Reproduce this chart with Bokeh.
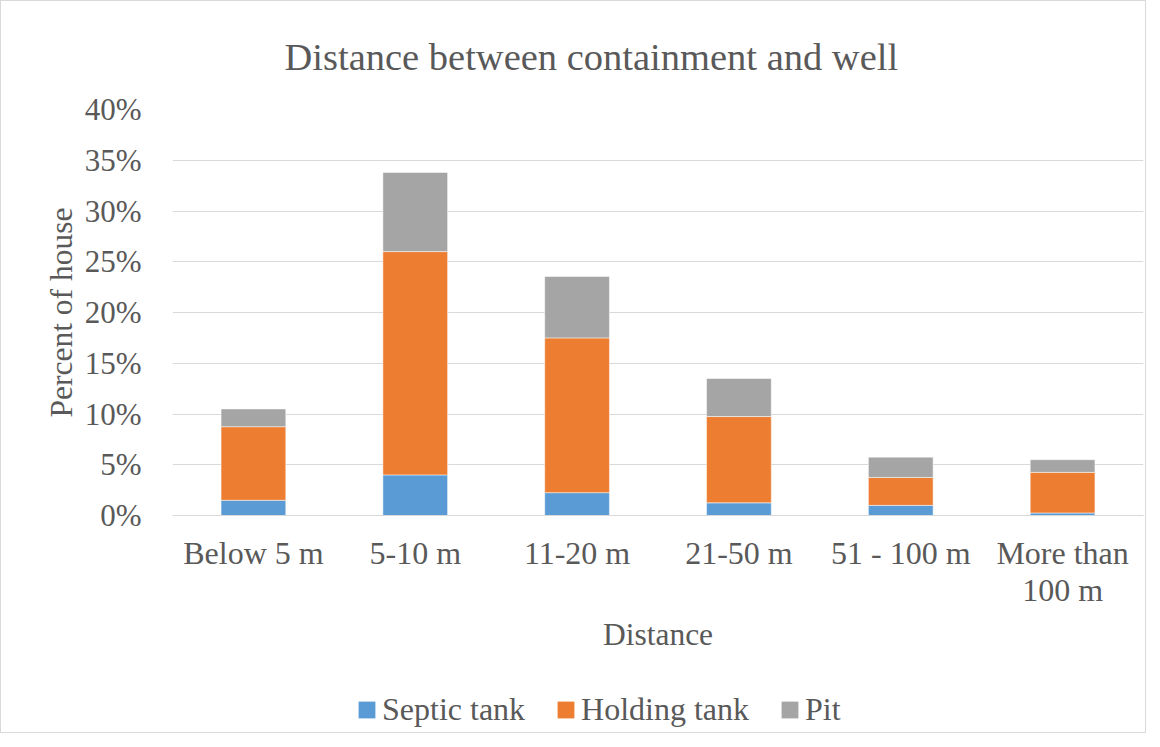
from bokeh.plotting import figure
from bokeh.layouts import column
from bokeh.models import (FactorRange, Range1d, FixedTicker, PrintfTickFormatter,
                          Legend, LegendItem, ColumnDataSource)
from bokeh.embed import file_html
from bokeh.resources import INLINE

# ---- data (percent of houses) ----
categories = ["Below 5 m", "5-10 m", "11-20 m", "21-50 m", "51 - 100 m", "More than\n100 m"]
septic_tank = [1.5, 4.0, 2.25, 1.25, 1.0, 0.25]
holding_tank = [7.25, 22.0, 15.25, 8.5, 2.75, 4.0]
pit = [1.75, 7.8, 6.05, 3.75, 2.0, 1.25]
series_names = ["Septic tank", "Holding tank", "Pit"]
y_ticks = [0, 5, 10, 15, 20, 25, 30, 35, 40]

colors = ["#5b9bd5", "#ed7d31", "#a5a5a5"]
FONT = "Liberation Serif"
TXT = "#595959"

source = ColumnDataSource(data=dict(cat=categories, s=septic_tank, h=holding_tank, p=pit))

p = figure(width=1144, height=664, x_range=FactorRange(factors=categories, range_padding=0),
           y_range=Range1d(0, 40), output_backend="svg", toolbar_location=None,
           min_border_left=171, min_border_right=2, min_border_top=108, min_border_bottom=150)

renderers = p.vbar_stack(["s", "h", "p"], x="cat", width=0.4, color=colors,
                         line_color="white", line_width=0.5, source=source)

p.title.text = "Distance between containment and well"
p.title.align = "left"
p.title.text_font = FONT
p.title.text_font_size = "38.5px"
p.title.text_font_style = "normal"
p.title.text_color = TXT
p.title.offset = 112
p.title.standoff = 64

p.outline_line_color = None
p.xgrid.grid_line_color = None
p.ygrid.grid_line_color = "#d9d9d9"
p.ygrid.grid_line_width = 1.2
p.ygrid.ticker = FixedTicker(ticks=y_ticks)

ya = p.yaxis[0]
ya.ticker = FixedTicker(ticks=y_ticks)
ya.formatter = PrintfTickFormatter(format="%d%%")
ya.axis_line_color = None
ya.major_tick_line_color = None
ya.minor_tick_line_color = None
ya.major_tick_out = 0
ya.major_label_standoff = 31
ya.major_label_text_font = FONT
ya.major_label_text_font_size = "31px"
ya.major_label_text_color = TXT
ya.axis_label = "Percent of house"
ya.axis_label_text_font = FONT
ya.axis_label_text_font_size = "31.5px"
ya.axis_label_text_font_style = "normal"
ya.axis_label_text_color = TXT
ya.axis_label_standoff = 3

xa = p.xaxis[0]
xa.axis_line_color = "#d9d9d9"
xa.major_tick_line_color = None
xa.minor_tick_line_color = None
xa.major_tick_out = 0
xa.major_label_standoff = 19
xa.major_label_text_font = FONT
xa.major_label_text_font_size = "32px"
xa.major_label_text_line_height = 1.04
xa.major_label_text_color = TXT
xa.axis_label = "Distance"
xa.axis_label_text_font = FONT
xa.axis_label_text_font_size = "31.5px"
xa.axis_label_text_font_style = "normal"
xa.axis_label_text_color = TXT
xa.axis_label_standoff = 6

# legend strip below the chart: the series renderers here are hidden and only
# provide the legend keys
pl = figure(width=1144, height=67, x_range=FactorRange(factors=categories, range_padding=0),
            y_range=Range1d(0, 40), output_backend="svg", toolbar_location=None,
            x_axis_type=None, y_axis_type=None, min_border=0)
pl.outline_line_color = None
pl.xgrid.visible = False
pl.ygrid.visible = False
leg_renderers = pl.vbar_stack(["s", "h", "p"], x="cat", width=0.4, color=colors,
                              line_color=None, source=source)
for r in leg_renderers:
    r.visible = False

legend = Legend(items=[LegendItem(label=n, renderers=[r]) for n, r in zip(series_names, leg_renderers)],
                orientation="horizontal", location=(184, 4), padding=0, margin=0,
                spacing=30, glyph_width=21, glyph_height=21, label_standoff=5,
                label_text_font=FONT, label_text_font_size="32px", label_text_color=TXT,
                border_line_color=None, background_fill_alpha=0,
                inactive_fill_alpha=0)
pl.add_layout(legend, "center")

layout = column(p, pl, spacing=0, styles={"border": "1px solid #d9d9d9"})

open("out.html", "w").write(file_html(layout, INLINE))
